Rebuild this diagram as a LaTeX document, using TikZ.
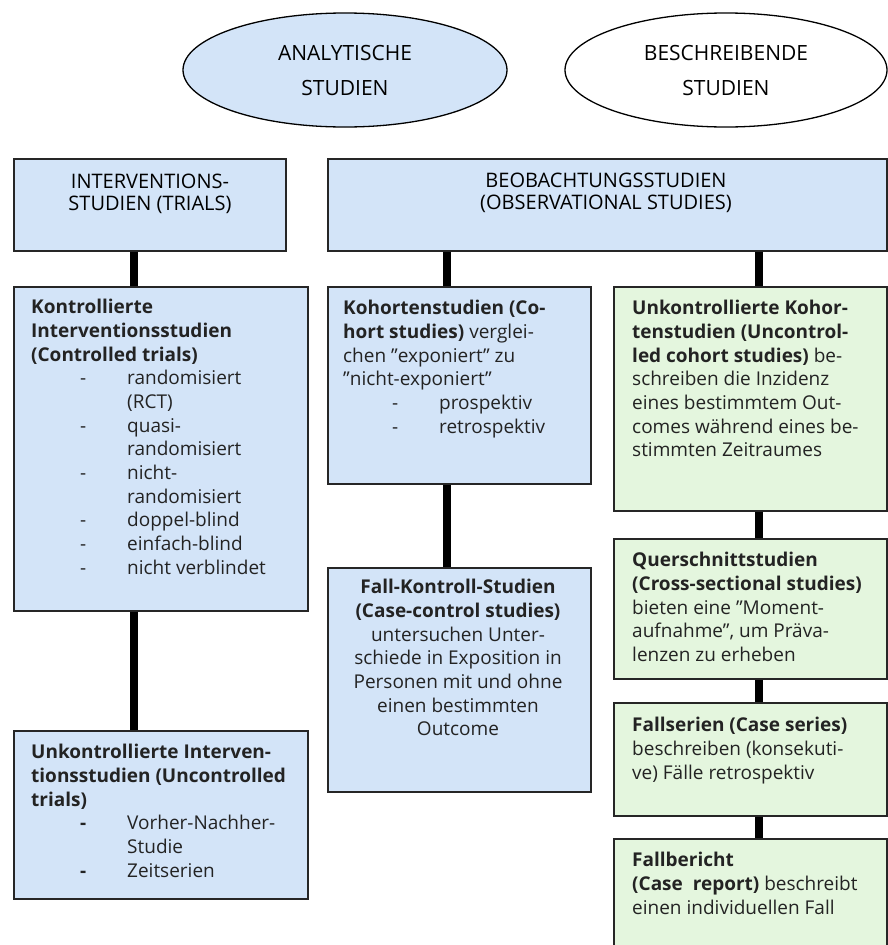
\documentclass[tikz,border=0pt]{standalone}
\usepackage{fontspec}
\setmainfont{Open Sans}
\usetikzlibrary{shapes.geometric}

\definecolor{boxblue}{RGB}{211,228,248}
\definecolor{boxgreen}{RGB}{228,246,222}
\definecolor{inkgray}{RGB}{35,35,35}

% bullet item: dash at +49pt, text at +96pt
\newcommand\dashitem[1]{\hspace*{49pt}\makebox[47pt][l]{-}#1}
\newcommand\bdashitem[1]{\hspace*{49pt}\makebox[47pt][l]{\textbf{-}}#1}
\newcommand\contline{\hspace*{96pt}}

\tikzset{
  x=1pt, y=-1pt,
  studybox/.style={draw=black!85, line width=1.5pt, anchor=north west,
    rectangle, inner sep=0pt},
  bluebox/.style={studybox, fill=boxblue},
  greenbox/.style={studybox, fill=boxgreen},
  oval/.style={ellipse, draw=black, line width=1.3pt, inner sep=0pt},
  link/.style={draw=black, line width=7.5pt},
  bodytext/.style={inner sep=0pt, text=inkgray,
    font=\fontsize{19}{23.7}\selectfont},
  lefttext/.style={bodytext, anchor=north west, align=left},
  centertext/.style={bodytext, anchor=north, align=center},
  headtext/.style={inner sep=0pt, text=black, align=center,
    font=\fontsize{20}{22}\selectfont},
  ovaltext/.style={headtext, font=\fontsize{21}{35}\selectfont},
}

\begin{document}
\begin{tikzpicture}
\useasboundingbox (0,0) rectangle (888,945);
\clip (0,0) rectangle (888,945);

% top ellipses
\node[oval, fill=boxblue, minimum width=324pt, minimum height=114pt] (ana) at (345,70) {};
\node[oval, fill=white, minimum width=322pt, minimum height=114pt] (besch) at (726,70) {};
\node[ovaltext] (ana-t) at (345,70) {ANALYTISCHE\\STUDIEN};
\node[ovaltext] (besch-t) at (726,70) {BESCHREIBENDE\\STUDIEN};

% boxes
\node[bluebox, minimum width=272pt, minimum height=92pt] (intv) at (13,158) {};
\node[bluebox, minimum width=559pt, minimum height=92pt] (beob) at (327,158) {};
\node[bluebox, minimum width=294pt, minimum height=324pt] (kontr) at (13,286) {};
\node[bluebox, minimum width=294pt, minimum height=168pt] (ukintv) at (13,730) {};
\node[bluebox, minimum width=263pt, minimum height=197pt] (koh) at (327,286) {};
\node[bluebox, minimum width=263pt, minimum height=224pt] (fallk) at (327,567) {};
\node[greenbox, minimum width=273pt, minimum height=224pt] (ukkoh) at (613,286) {};
\node[greenbox, minimum width=273pt, minimum height=140pt] (quer) at (613,538) {};
\node[greenbox, minimum width=273pt, minimum height=113pt] (fser) at (613,702) {};
\node[greenbox, minimum width=273pt, minimum height=140pt] (fber) at (613,838) {};

% connector columns
\coordinate (lx) at (134,0);
\coordinate (mx) at (447,0);
\coordinate (rx) at (759,0);

\draw[link] (intv.south -| lx) -- (kontr.north -| lx);
\draw[link] (kontr.south -| lx) -- (ukintv.north -| lx);
\draw[link] (beob.south -| mx) -- (koh.north -| mx);
\draw[link] (koh.south -| mx) -- (fallk.north -| mx);
\draw[link] (beob.south -| rx) -- (ukkoh.north -| rx);
\draw[link] (ukkoh.south -| rx) -- (quer.north -| rx);
\draw[link] (quer.south -| rx) -- (fser.north -| rx);
\draw[link] (fser.south -| rx) -- (fber.north -| rx);

% texts
\node[headtext, anchor=north] (intv-t) at (150,174) {INTERVENTIONS-\\STUDIEN (TRIALS)};
\node[headtext, anchor=north] (beob-t) at (606,173) {BEOBACHTUNGSSTUDIEN\\(OBSERVATIONAL STUDIES)};

\node[lefttext] (kontr-t) at (31,299) {%
\textbf{Kontrollierte}\\
\textbf{Interventionsstudien}\\
\textbf{(Controlled trials)}\\
\dashitem{randomisiert}\\
\contline(RCT)\\
\dashitem{quasi-}\\
\contline randomisiert\\
\dashitem{nicht-}\\
\contline randomisiert\\
\dashitem{doppel-blind}\\
\dashitem{einfach-blind}\\
\dashitem{nicht verblindet}};

\node[lefttext] (ukintv-t) at (31,744) {%
\textbf{Unkontrollierte Interven-}\\
\textbf{tionsstudien (Uncontrolled}\\
\textbf{trials)}\\
\bdashitem{Vorher-Nachher-}\\
\contline Studie\\
\bdashitem{Zeitserien}};

\node[lefttext] (koh-t) at (343,300) {%
\textbf{Kohortenstudien (Co-}\\
\textbf{hort studies)} verglei-\\
chen ”exponiert” zu\\
”nicht-exponiert”\\
\dashitem{prospektiv}\\
\dashitem{retrospektiv}};

\node[centertext] (fallk-t) at (458,579) {%
\textbf{Fall-Kontroll-Studien}\\
\textbf{(Case-control studies)}\\
untersuchen Unter-\\
schiede in Exposition in\\
Personen mit und ohne\\
einen bestimmten\\
Outcome};

\node[lefttext] (ukkoh-t) at (632,300) {%
\textbf{Unkontrollierte Kohor-}\\
\textbf{tenstudien (Uncontrol-}\\
\textbf{led cohort studies)} be-\\
schreiben die Inzidenz\\
eines bestimmtem Out-\\
comes während eines be-\\
stimmten Zeitraumes};

\node[lefttext] (quer-t) at (632,552) {%
\textbf{Querschnittstudien}\\
\textbf{(Cross-sectional studies)}\\
bieten eine ”Moment-\\
aufnahme”, um Präva-\\
lenzen zu erheben};

\node[lefttext] (fser-t) at (632,717) {%
\textbf{Fallserien (Case series)}\\
beschreiben (konsekuti-\\
ve) Fälle retrospektiv};

\node[lefttext] (fber-t) at (632,852) {%
\textbf{Fallbericht}\\
\textbf{(Case\ \ report)} beschreibt\\
einen individuellen Fall};
\end{tikzpicture}
\end{document}
